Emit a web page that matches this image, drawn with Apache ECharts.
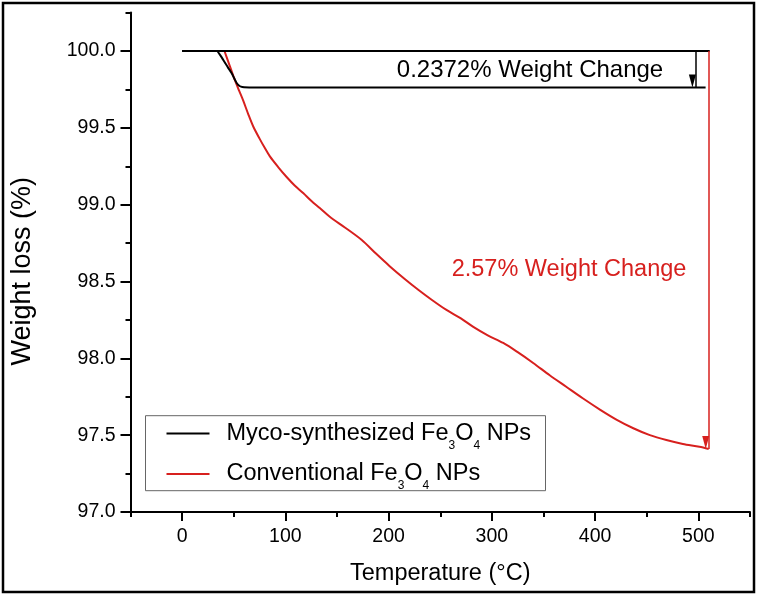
<!DOCTYPE html>
<html>
<head>
<meta charset="utf-8">
<script src="https://cdn.jsdelivr.net/npm/echarts@6/dist/echarts.min.js"></script>
<style>
html,body{margin:0;padding:0;background:#fff;}
#chart{width:761px;height:597px;}
</style>
</head>
<body>
<div id="chart"></div>
<script>
// ---------- data ----------
const xTickLabels = [0, 100, 200, 300, 400, 500];
const xMinorTicks = [-50, 50, 150, 250, 350, 450, 550];
const yTickLabels = [97.0, 97.5, 98.0, 98.5, 99.0, 99.5, 100.0];
const yMinorTicks = [97.25, 97.75, 98.25, 98.75, 99.25, 99.75, 100.25];

const seriesNames = ['Myco-synthesized Fe3O4 NPs', 'Conventional Fe3O4 NPs'];

const mycoTemp   = [0, 10, 20, 30, 33.5, 36, 38, 40, 44, 48, 51, 53, 55, 57, 60, 65, 100, 200, 300, 400, 507];
const mycoWeight = [100, 100, 100, 100, 100, 99.982, 99.962, 99.94, 99.897, 99.855, 99.815, 99.79, 99.776, 99.768, 99.764, 99.763, 99.763, 99.763, 99.763, 99.763, 99.763];

const convTemp   = [41, 45, 50, 55, 59, 64, 69, 75, 80, 85, 93, 101, 109, 117.5, 125, 133.6, 143, 158, 174, 188, 201, 215, 229, 242, 256, 270, 282, 296, 311, 325, 340, 356, 372, 388, 405, 421, 437, 453, 469, 485, 501, 510];
const convWeight = [100, 99.925, 99.83, 99.745, 99.68, 99.59, 99.507, 99.43, 99.37, 99.314, 99.245, 99.182, 99.125, 99.074, 99.025, 98.976, 98.921, 98.85, 98.77, 98.68, 98.60, 98.52, 98.445, 98.38, 98.315, 98.26, 98.205, 98.15, 98.10, 98.04, 97.97, 97.89, 97.815, 97.74, 97.665, 97.60, 97.545, 97.50, 97.468, 97.443, 97.424, 97.41];

const baselineLine = [[0, 100.0], [511, 100.0]];
const mycoArrow = [[497.6, 100.0], [497.6, 99.7628]];
const convArrow = [[510.5, 100.0], [510.5, 97.41]];
const annotationTexts = ['0.2372% Weight Change', '2.57% Weight Change'];

// ---------- chart ----------
const FONT = '"Liberation Sans", Arial, sans-serif';
const RED = '#d7201e';
const zip = (a, b) => a.map((v, i) => [v, b[i]]);
const seg = (p) => [{ coord: p[0] }, { coord: p[1] }];

const chart = echarts.init(document.getElementById('chart'), null, { renderer: 'canvas' });

const option = {
  animation: false,
  backgroundColor: '#fff',
  grid: { left: 130.5, right: 11, top: 12.6, bottom: 85, containLabel: false },
  xAxis: [
    {
      type: 'value', min: -50, max: 550, position: 'bottom',
      axisLine: { onZero: false, lineStyle: { color: '#000', width: 2 } },
      axisTick: { show: true, inside: false, customValues: xTickLabels, length: 9, lineStyle: { color: '#000', width: 2 } },
      axisLabel: { customValues: xTickLabels, color: '#000', fontSize: 19.5, fontFamily: FONT, margin: 15 },
      splitLine: { show: false },
      name: 'Temperature (°C)', nameLocation: 'middle', nameGap: 50,
      nameTextStyle: { color: '#000', fontSize: 23.5, fontFamily: FONT }
    },
    {
      type: 'value', min: -50, max: 550, position: 'bottom',
      axisLine: { show: false, onZero: false },
      axisTick: { show: true, inside: false, customValues: xMinorTicks, length: 5, lineStyle: { color: '#000', width: 2 } },
      axisLabel: { show: false },
      splitLine: { show: false }
    }
  ],
  yAxis: [
    {
      type: 'value', min: 97, max: 100.25, position: 'left',
      axisLine: { onZero: false, lineStyle: { color: '#000', width: 2 } },
      axisTick: { show: true, inside: false, customValues: yTickLabels, length: 10, lineStyle: { color: '#000', width: 2 } },
      axisLabel: { customValues: yTickLabels, formatter: (v) => Number(v).toFixed(1), color: '#000', fontSize: 19.5, fontFamily: FONT, margin: 15 },
      splitLine: { show: false },
      name: 'Weight loss (%)', nameLocation: 'middle', nameGap: 94,
      nameTextStyle: { color: '#000', fontSize: 27, fontFamily: FONT, padding: [0, 18, 0, 0] }
    },
    {
      type: 'value', min: 97, max: 100.25, position: 'left',
      axisLine: { show: false, onZero: false },
      axisTick: { show: true, inside: false, customValues: yMinorTicks, length: 5, lineStyle: { color: '#000', width: 2 } },
      axisLabel: { show: false },
      splitLine: { show: false }
    }
  ],
  legend: {
    show: true,
    orient: 'vertical',
    left: 166.5, top: 415.6,
    padding: 0,
    icon: 'rect',
    itemWidth: 43, itemHeight: 2, itemGap: 4.4,
    data: seriesNames,
    formatter: (name) => {
      const base = name.replace(' Fe3O4 NPs', '');
      return '{g|}{n|' + base + ' Fe}{s|3}{n|O}{s|4}{n| NPs}';
    },
    textStyle: {
      color: '#000', fontSize: 23.5, fontFamily: FONT,
      rich: {
        g: { width: 12, lineHeight: 26 },
        n: { color: '#000', fontSize: 23.5, lineHeight: 26, fontFamily: FONT },
        s: { color: '#000', fontSize: 12, lineHeight: 2, padding: [24, 0, 0, 0], fontFamily: FONT }
      }
    }
  },
  series: [
    {
      name: seriesNames[0], type: 'line', xAxisIndex: 0, yAxisIndex: 0,
      data: zip(mycoTemp, mycoWeight),
      symbol: 'none', showSymbol: false, smooth: 0.3,
      lineStyle: { color: '#000', width: 2 }, itemStyle: { color: '#000' },
      z: 3,
      markLine: {
        silent: true, symbol: ['none', 'none'],
        lineStyle: { color: '#000', width: 2, type: 'solid' },
        label: { show: false },
        emphasis: { disabled: true },
        data: [seg(baselineLine)]
      }
    },
    {
      name: seriesNames[1], type: 'line', xAxisIndex: 0, yAxisIndex: 0,
      data: zip(convTemp, convWeight),
      symbol: 'none', showSymbol: false, smooth: 0.3,
      lineStyle: { color: RED, width: 2 }, itemStyle: { color: RED },
      z: 2,
      markLine: {
        silent: true, symbol: ['none', 'triangle'], symbolSize: [7, 13], symbolOffset: [0, '50%'],
        lineStyle: { color: RED, width: 1.5, type: 'solid' },
        itemStyle: { color: RED },
        label: { show: false },
        emphasis: { disabled: true },
        data: [seg(convArrow)]
      }
    },
    {
      type: 'line', xAxisIndex: 0, yAxisIndex: 0, data: [],
      symbol: 'none',
      markLine: {
        silent: true, symbol: ['none', 'triangle'], symbolSize: [7, 13], symbolOffset: [0, '50%'],
        lineStyle: { color: '#000', width: 1.5, type: 'solid' },
        itemStyle: { color: '#000' },
        label: { show: false },
        emphasis: { disabled: true },
        data: [seg(mycoArrow)]
      }
    }
  ],
  graphic: [
    { type: 'rect', silent: true, z: 0, shape: { x: 3, y: 3, width: 751, height: 589 },
      style: { fill: 'none', stroke: '#000', lineWidth: 2.5 } },
    { type: 'rect', silent: true, z: 0, shape: { x: 145.5, y: 415.7, width: 400, height: 75 },
      style: { fill: 'none', stroke: '#666', lineWidth: 1 } },
    { type: 'text', silent: true, x: 530, y: 70,
      style: { text: annotationTexts[0], fill: '#000', fontSize: 24, fontFamily: FONT, align: 'center', verticalAlign: 'middle' } },
    { type: 'text', silent: true, x: 569, y: 270,
      style: { text: annotationTexts[1], fill: RED, fontSize: 23.5, fontFamily: FONT, align: 'center', verticalAlign: 'middle' } }
  ]
};

chart.setOption(option);
</script>
</body>
</html>
